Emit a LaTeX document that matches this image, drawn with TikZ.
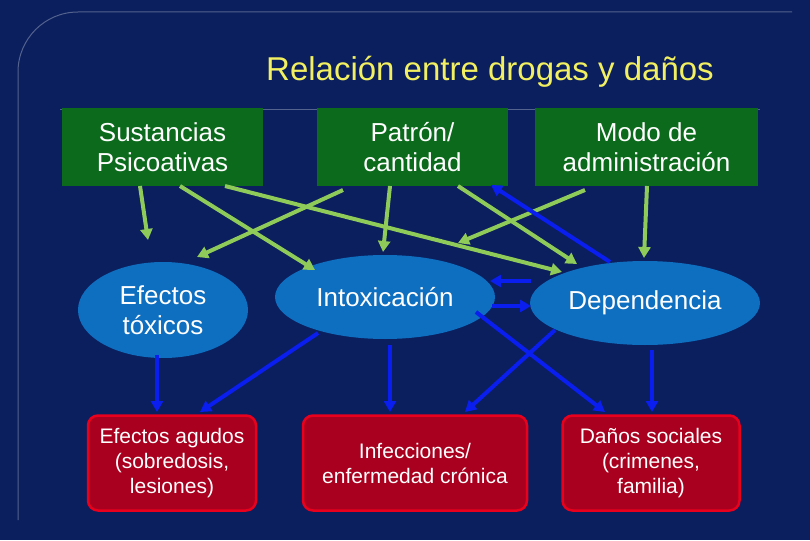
\documentclass[tikz,border=0pt]{standalone}
\usepackage{fontspec}
\setmainfont{Liberation Sans}
\usetikzlibrary{arrows.meta,shapes.geometric}
\definecolor{bg}{HTML}{0B1F5E}
\definecolor{gbox}{HTML}{0B6A1C}
\definecolor{ell}{HTML}{0E6EC0}
\definecolor{rbox}{HTML}{A8001E}
\definecolor{rbord}{HTML}{E8001C}
\definecolor{garr}{HTML}{8FCB58}
\definecolor{barr}{HTML}{0A1EF0}
\definecolor{ttl}{HTML}{F2F060}
\begin{document}
\begin{tikzpicture}[x=1pt,y=-1pt,
  gb/.style={fill=gbox,text=white,minimum width=#1,minimum height=78pt,align=center,font=\fontsize{26}{30}\selectfont,inner sep=2pt},
  el/.style={ellipse,fill=ell,text=white,align=center,font=\fontsize{26}{30}\selectfont,inner sep=0pt},
  rb/.style={fill=rbox,draw=rbord,line width=2.5pt,rounded corners=10pt,text=white,align=center,minimum height=95pt,minimum width=#1,font=\fontsize{21}{25}\selectfont},
  ga/.style={draw=garr,line width=4pt,-{Triangle[length=11pt,width=12pt]}},
  ba/.style={draw=barr,line width=4pt,-{Triangle[length=11pt,width=12pt]}}]
\fill[bg] (0,0) rectangle (810,540);
\draw[draw=white!30!bg,line width=1pt,rounded corners=60pt] (18,520) -- (18,12) -- (792,12);
\draw[draw=white!30!bg,line width=1pt] (60,110) -- (760,110);
\node[text=ttl,font=\fontsize{33}{36}\selectfont] (title) at (490,72) {Relación entre drogas y daños};
\node[gb=201pt] (s) at (162.5,147) {Sustancias\\Psicoativas};
\node[gb=191pt] (p) at (412.5,147) {Patrón/\\cantidad};
\node[gb=223pt] (m) at (646.5,147) {Modo de\\administración};
\node[el,minimum width=170pt,minimum height=96pt] (e) at (163,310) {Efectos\\tóxicos};
\node[el,minimum width=220pt,minimum height=84pt] (i) at (385,297) {Intoxicación};
\node[el,minimum width=230pt,minimum height=84pt] (d) at (645,303) {Dependencia};
\node[rb=168pt] (r1) at (172,463) {Efectos agudos\\(sobredosis,\\lesiones)};
\node[rb=224pt] (r2) at (415,463) {Infecciones/\\enfermedad crónica};
\node[rb=177pt] (r3) at (651,463) {Daños sociales\\(crimenes,\\familia)};
\coordinate (a) at (140,186); \coordinate (b) at (180,186); \coordinate (c) at (225,186);
\coordinate (f) at (343,190); \coordinate (g) at (390,186); \coordinate (h) at (458,186);
\coordinate (k) at (585,190); \coordinate (l) at (647,186);
\draw[ga] (a) -- (148,240);
\draw[ga] (b) -- (315,270);
\draw[ga] (c) -- (562,272);
\draw[ga] (f) -- (197,257);
\draw[ga] (g) -- (383,252);
\draw[ga] (h) -- (577,264);
\draw[ga] (k) -- (458,243);
\draw[ga] (l) -- (644,258);
\draw[ba] (610,262) -- (491,185);
\draw[ba] (531,281) -- (490,281);
\draw[ba] (492,306) -- (531,306);
\draw[ba] (157,355) -- (157,412);
\draw[ba] (318,333) -- (200,412);
\draw[ba] (390,345) -- (390,412);
\draw[ba] (476,312) -- (605,412);
\draw[ba] (555,330) -- (465,412);
\draw[ba] (652,350) -- (652,412);
\end{tikzpicture}
\end{document}
